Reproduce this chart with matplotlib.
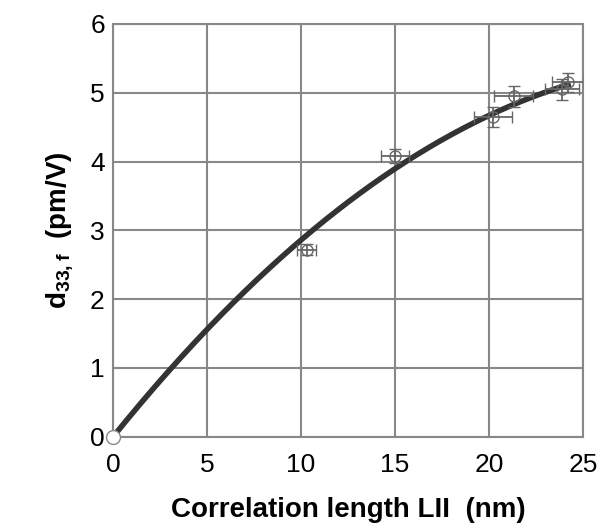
import numpy as np
import matplotlib.pyplot as plt

plt.rcParams['font.family'] = ['Liberation Sans', 'DejaVu Sans']
plt.rcParams['mathtext.fontset'] = 'custom'
plt.rcParams['mathtext.bf'] = 'Liberation Sans:bold'
plt.rcParams['mathtext.rm'] = 'Liberation Sans'

# measured points (correlation length in nm, d33,f in pm/V)
x_pts = [10.3, 15.0, 20.2, 21.3, 23.9, 24.2]
y_pts = [2.72, 4.08, 4.65, 4.95, 5.05, 5.15]
x_err = [0.5, 0.75, 1.0, 1.05, 0.9, 0.85]
y_err = [0.08, 0.1, 0.15, 0.15, 0.15, 0.14]

# fitted curve coefficients (y = a*x - b*x^2)
fit_a = 0.3385
fit_b = 0.00525

fig = plt.figure(figsize=(6.08, 5.32), dpi=100)
ax = fig.add_axes([0.186, 0.179, 0.773, 0.776])

x_fit = np.linspace(0, 24.2, 200)
y_fit = fit_a * x_fit - fit_b * x_fit**2
ax.plot(x_fit, y_fit, color='#333333', lw=4, zorder=3)

ax.errorbar(x_pts, y_pts, xerr=x_err, yerr=y_err, fmt='o', mfc='none',
            mec='#666666', ecolor='#666666', ms=8, capsize=4, lw=1.3, zorder=4)
ax.plot([0], [0], 'o', mfc='white', mec='#888888', ms=10, clip_on=False, zorder=5)

ax.set_xlim(0, 25)
ax.set_ylim(0, 6)
ax.set_xticks(range(0, 26, 5))
ax.set_yticks(range(0, 7))
ax.grid(color='#888888', lw=1.5)
ax.set_axisbelow(True)
for s in ax.spines.values():
    s.set_color('#888888')
    s.set_linewidth(1.5)
ax.tick_params(length=0, labelsize=19)
ax.tick_params(axis='x', pad=12)
ax.tick_params(axis='y', pad=6)

ax.set_xlabel('Correlation length LII  (nm)', fontsize=20, fontweight='bold', labelpad=14)
ax.set_ylabel(r'd$_{\mathbf{33,f}}$  (pm/V)', fontsize=20, fontweight='bold', labelpad=10)

fig.savefig('out.png', dpi=100)
